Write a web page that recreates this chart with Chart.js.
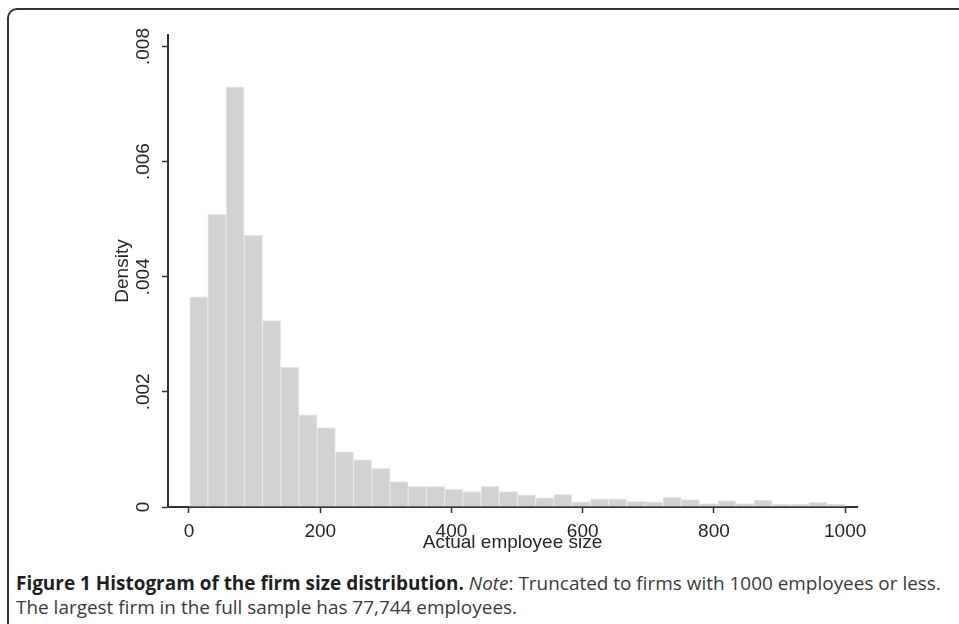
<!DOCTYPE html>
<html>
<head>
<meta charset="utf-8">
<script src="https://cdn.jsdelivr.net/npm/chart.js@4.4.1/dist/chart.umd.min.js"></script>
<style>
    html, body { margin: 0; padding: 0; background: #fff; }
    #wrap { position: relative; width: 959px; height: 624px; overflow: hidden; }
    #frame {
        position: absolute; left: 7px; top: 8px; width: 1100px; height: 800px;
        border-top: 2px solid #333; border-left: 2px solid #333;
        border-top-left-radius: 10px;
    }
    #plot { position: absolute; left: 0; top: 0; width: 959px; height: 560px; }
    #caption {
        position: absolute; left: 16px; top: 571px; width: 940px;
        font-family: "Open Sans", sans-serif; font-size: 18.95px; line-height: 24px;
        color: #3a3a3a; white-space: nowrap;
    }
    #caption b { color: #1f1f1f; }
</style>
</head>
<body>
<div id="wrap">
    <div id="frame"></div>
    <div id="plot"><canvas id="chart"></canvas></div>
    <div id="caption"><b>Figure 1 Histogram of the firm size distribution.</b> <i>Note</i>: Truncated to firms with 1000 employees or less.<br>The largest firm in the full sample has 77,744 employees.</div>
</div>
<script>
// histogram bins (employees), 36 bins from 1 to 1000
const binStarts = [1, 28.75, 56.5, 84.25, 112, 139.75, 167.5, 195.25, 223, 250.75, 278.5, 306.25,
    334, 361.75, 389.5, 417.25, 445, 472.75, 500.5, 528.25, 556, 583.75, 611.5, 639.25,
    667, 694.75, 722.5, 750.25, 778, 805.75, 833.5, 861.25, 889, 916.75, 944.5, 972.25];
const binWidth = 27.75;
const density = [0.00365, 0.00509, 0.00730, 0.00472, 0.00324, 0.00243, 0.00160, 0.00138,
    0.00096, 0.00082, 0.00067, 0.00044, 0.00036, 0.00036, 0.00031, 0.00027, 0.00036, 0.00027,
    0.00021, 0.00016, 0.00022, 0.00009, 0.00014, 0.00014, 0.00010, 0.00009, 0.00017, 0.00013,
    0.00006, 0.00011, 0.00006, 0.00012, 0.00005, 0.00005, 0.00008, 0.00005];
const xTicks = [0, 200, 400, 600, 800, 1000];
const yTicks = [0, 0.002, 0.004, 0.006, 0.008];
const yTickLabels = ["0", ".002", ".004", ".006", ".008"];

const axisFont = { family: "'Liberation Sans', Arial, sans-serif", size: 19 };
const ink = "#262626";

// y tick labels are rotated like Stata draws them
const rotatedYLabels = {
    id: "rotatedYLabels",
    afterDraw(chart) {
        const ctx = chart.ctx;
        const y = chart.scales.y;
        ctx.save();
        ctx.font = axisFont.size + "px " + axisFont.family;
        ctx.fillStyle = ink;
        ctx.textAlign = "center";
        ctx.textBaseline = "middle";
        yTicks.forEach((v, i) => {
            ctx.save();
            ctx.translate(chart.chartArea.left - 24.5, y.getPixelForValue(v));
            ctx.rotate(-Math.PI / 2);
            ctx.fillText(yTickLabels[i], 0, 0);
            ctx.restore();
        });
        ctx.restore();
    }
};

new Chart(document.getElementById("chart"), {
    type: "bar",
    data: {
        datasets: [{
            label: "Density",
            data: binStarts.map((s, i) => ({ x: s + binWidth / 2, y: density[i] })),
            backgroundColor: "#d2d2d2",
            borderColor: "#e8e8e8",
            borderWidth: 1,
            barPercentage: 1,
            categoryPercentage: 1
        }]
    },
    options: {
        responsive: true,
        maintainAspectRatio: false,
        animation: false,
        layout: { padding: { left: 0, right: 102, top: 35, bottom: 0 } },
        plugins: { legend: { display: false }, tooltip: { enabled: false } },
        scales: {
            x: {
                type: "linear",
                offset: false,
                min: -32,
                max: 1018,
                afterBuildTicks: (s) => { s.ticks = xTicks.map(v => ({ value: v })); },
                afterFit: (s) => { s.height = 53; },
                ticks: { font: axisFont, color: ink, padding: 7, maxRotation: 0, callback: (v) => String(v) },
                grid: { offset: false, drawOnChartArea: false, drawTicks: true, tickLength: 6, tickWidth: 1.5, tickColor: "#333" },
                border: { display: true, color: "#333", width: 2 },
                title: { display: true, text: "Actual employee size", font: axisFont, color: ink, padding: { top: 0, bottom: 6 } }
            },
            y: {
                min: 0,
                max: 0.0082,
                afterBuildTicks: (s) => { s.ticks = yTicks.map(v => ({ value: v })); },
                afterFit: (s) => { s.width = 168; },
                ticks: { display: false },
                grid: { drawOnChartArea: false, drawTicks: true, tickLength: 6, tickWidth: 1.5, tickColor: "#333" },
                border: { display: true, color: "#333", width: 2 },
                title: { display: true, text: "Density", font: axisFont, color: ink, padding: { top: 111, bottom: 0 } }
            }
        }
    },
    plugins: [rotatedYLabels]
});
</script>
</body>
</html>
